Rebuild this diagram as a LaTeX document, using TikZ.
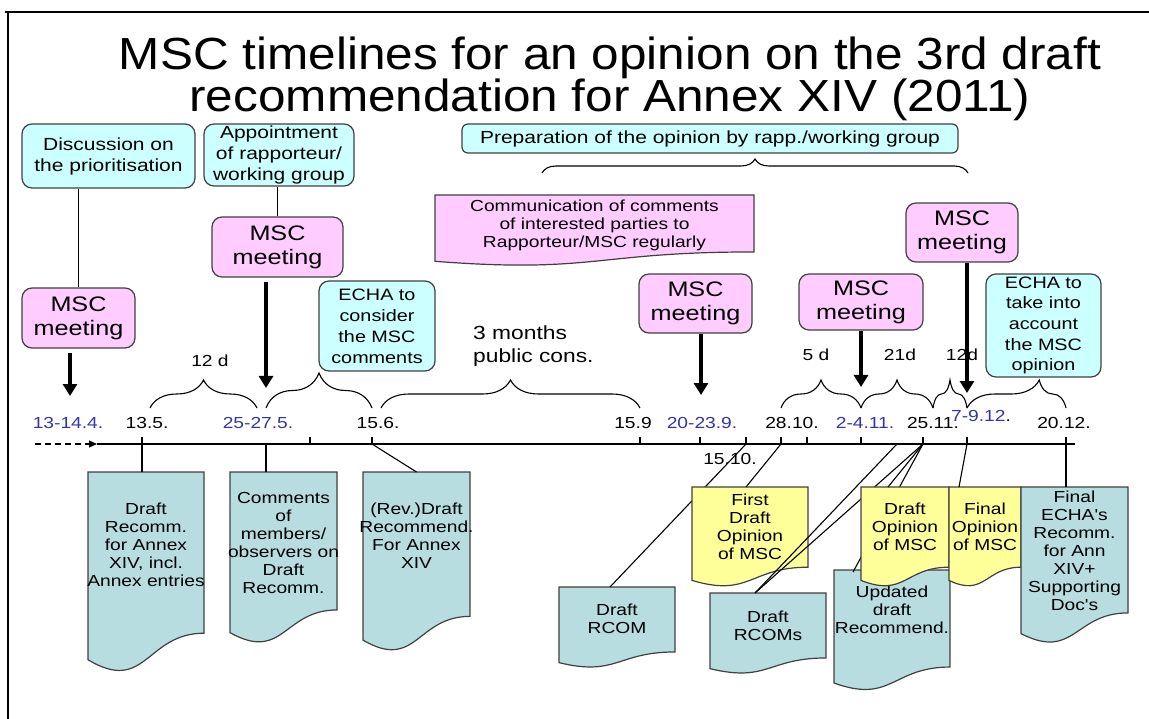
\documentclass[tikz,border=0pt]{standalone}
\usepackage{fontspec}
\setmainfont{Liberation Sans}
\newfontfamily\bodyfont[FakeStretch=1.2]{Liberation Sans}
\newfontfamily\headfont[FakeStretch=1.1]{Liberation Sans}
\usetikzlibrary{arrows.meta,decorations.pathreplacing}

\definecolor{mscpink}{RGB}{255,204,255}
\definecolor{echacyan}{RGB}{204,255,255}
\definecolor{docteal}{RGB}{183,221,225}
\definecolor{docyellow}{RGB}{255,255,153}
\definecolor{dateblue}{RGB}{51,51,170}
\definecolor{edgegray}{RGB}{64,64,64}

% document with a wavy bottom: name, left, right, top, height, fill, text y, text
\newcommand{\docnode}[8]{%
  \filldraw[fill=#6, draw=edgegray, line width=1.2pt]
    (#2,#4) -- (#3,#4) -- (#3,{#4+0.802*#5})
    .. controls ({(#2+#3)/2},{#4+0.802*#5}) and ({(#2+#3)/2},{#4+1.1075*#5}) ..
    (#2,{#4+0.934*#5}) -- cycle;
  \coordinate (#1-top) at ({(#2+#3)/2},#4);
  \node[doctext] (#1) at ({(#2+#3)/2},#7) {#8};
}

\begin{document}
\begin{tikzpicture}[x=1pt, y=-1pt,
  box/.style={draw=edgegray, line width=1.2pt, rounded corners=10pt, inner sep=0pt,
    align=center, font=\bodyfont\fontsize{17.5}{21}\selectfont},
  echabox/.style={box, fill=echacyan},
  meetbox/.style={box, fill=mscpink, font=\bodyfont\fontsize{21}{24}\selectfont},
  doctext/.style={align=center, inner sep=0pt, font=\bodyfont\fontsize{16}{18}\selectfont},
  datelbl/.style={inner sep=0pt, font=\bodyfont\fontsize{16}{18}\selectfont},
  bluedate/.style={datelbl, text=dateblue},
  span/.style={inner sep=0pt, font=\bodyfont\fontsize{16}{18}\selectfont},
  push/.style={line width=4.5pt, -{Triangle[width=14pt,length=12pt]}},
  curly/.style={decorate, decoration={brace, amplitude=#1}, line width=1.1pt},
  curly/.default=28pt]

  \useasboundingbox (0,0) rectangle (1149,719);

  % frame
  \draw[line width=2pt] (5,12) -- (1149,12);
  \draw[line width=2pt] (8,12) -- (8,719);

  \node[align=center, inner sep=0pt, font=\headfont\fontsize{45}{42}\selectfont] (title) at (610,79)
    {MSC timelines for an opinion on the 3rd draft\\recommendation for Annex XIV (2011)};

  % boxes above the time line
  \node[echabox, minimum width=173pt, minimum height=64pt] (disc) at (108.5,156)
    {Discussion on\\the prioritisation};
  \node[echabox, minimum width=150pt, minimum height=62pt] (appt) at (279,155)
    {Appointment\\of rapporteur/\\working group};
  \node[meetbox, minimum width=113pt, minimum height=60pt] (msc1) at (78.5,318) {MSC\\meeting};
  \node[meetbox, minimum width=131pt, minimum height=60pt] (msc2) at (277.5,247) {MSC\\meeting};
  \node[echabox, minimum width=116pt, minimum height=90pt,
    font=\bodyfont\fontsize{16.5}{21}\selectfont] (cons) at (377,326)
    {ECHA to\\consider\\the MSC\\comments};
  \node[echabox, rounded corners=6pt, minimum width=496pt, minimum height=29pt] (prep) at (710,138.5)
    {Preparation of the opinion by rapp./working group};
  \node[meetbox, minimum width=113pt, minimum height=59pt] (msc3) at (695.5,303.5) {MSC\\meeting};
  \node[meetbox, minimum width=124pt, minimum height=56pt] (msc4) at (861,302) {MSC\\meeting};
  \node[meetbox, minimum width=112pt, minimum height=59pt] (msc5) at (962,232.5) {MSC\\meeting};
  \node[echabox, minimum width=115pt, minimum height=103pt,
    font=\bodyfont\fontsize{16.5}{20.7}\selectfont] (acct) at (1043.5,325.5)
    {ECHA to\\take into\\account\\the MSC\\opinion};

  \docnode{comm}{435}{754}{195}{71}{mscpink}{225}
    {Communication of comments\\of interested parties to\\Rapporteur/MSC regularly}

  \draw[line width=1.1pt] (msc1.north) -- (msc1.north |- disc.south);
  \draw[line width=1.1pt] (msc2.north) -- (msc2.north |- appt.south);

  % meeting arrows
  \coordinate (h1) at (70,396);
  \coordinate (h2) at (266,388);
  \coordinate (h3) at (701,395);
  \coordinate (h4) at (861,387);
  \coordinate (h5) at (967,393);
  \draw[push] ([yshift=-4pt]msc1.south -| h1) -- (h1);
  \draw[push] ([yshift=-4pt]msc2.south -| h2) -- (h2);
  \draw[push] (msc3.south -| h3) -- (h3);
  \draw[push] (msc4.south -| h4) -- (h4);
  \draw[push] (msc5.south -| h5) -- (h5);

  % periods
  \draw[curly] (150,408) -- (257,408);
  \draw[curly=35pt] (266,408) -- (372,408);
  \draw[curly] (381,408) -- (640,408);
  \draw[curly] (781,408) -- (861,408);
  \draw[curly] (861,408) -- (933,408);
  \draw[curly] (933,408) -- (967,408);
  \draw[curly, decoration={aspect=0.73}] (967,408) -- (1066,408);
  \draw[curly=14pt] (542,173) -- (968,173);

  \node[span] (p1) at (210,361) {12 d};
  \node[span] (p4) at (816,355) {5 d};
  \node[span] (p5) at (900,355) {21d};
  \node[span] (p6) at (962,355) {12d};
  \node[span, anchor=west, align=left, font=\bodyfont\fontsize{19}{23}\selectfont] (p3) at (473,346)
    {3 months\\public cons.};

  % time line
  \coordinate (d135) at (142,444);
  \coordinate (d2527) at (266,444);
  \coordinate (dm1) at (310,444);
  \coordinate (d156) at (372,444);
  \coordinate (d159) at (640,444);
  \coordinate (d2023) at (700,444);
  \coordinate (d1510) at (746,444);
  \coordinate (d2810) at (781,444);
  \coordinate (dm2) at (807,444);
  \coordinate (d24) at (861,444);
  \coordinate (dm3) at (897,444);
  \coordinate (d2511) at (923,444);
  \coordinate (d79) at (967,444);
  \coordinate (d2012) at (1066,444);

  \draw[line width=1.2pt, dash pattern=on 6pt off 4pt, -{Triangle[width=7pt,length=8pt]}] (35,444) -- (97,444);
  \draw[line width=1.2pt] (97,444) -- (1075,444);
  \foreach \p in {dm1,d156,d159,d1510,dm2,d24,d2511,d79}
    \draw[line width=1.1pt] (\p) -- ++(0,-7);
  \foreach \p in {d2023,d2810}
    \draw[line width=2pt] (\p) -- ++(0,-7);

  \node[bluedate] (l1314) at (68,423) {13-14.4.};
  \node[datelbl] (l135) at (147,423) {13.5.};
  \node[bluedate] (l2527) at (258,423) {25-27.5.};
  \node[datelbl] (l156) at (378,423) {15.6.};
  \node[datelbl] (l159) at (633,423) {15.9};
  \node[bluedate] (l2023) at (702,423) {20-23.9.};
  \node[datelbl] (l2810) at (792,423) {28.10.};
  \node[datelbl] (l1510) at (730,459) {15.10.};
  \node[bluedate] (l24) at (865,423) {2-4.11.};
  \node[datelbl] (l2511) at (933,423) {25.11.};
  \node[datelbl] (l79) at (981,416) {\textcolor{dateblue}{7-9.12}.};
  \node[datelbl] (l2012) at (1064,423) {20.12.};

  % documents
  \docnode{recomm}{88}{204}{472}{201}{docteal}{545}
    {Draft\\Recomm.\\for Annex\\XIV, incl.\\Annex entries}
  \docnode{comments}{230}{337}{472}{172}{docteal}{543}
    {Comments\\of\\members/\\observers on\\Draft\\Recomm.}
  \docnode{rev}{363}{470}{472}{180}{docteal}{536}
    {(Rev.)Draft\\Recommend.\\For Annex\\XIV}
  \docnode{rcom}{559}{675}{587}{81}{docteal}{619}
    {Draft\\RCOM}
  \draw[line width=1.1pt] (d1510) -- ([xshift=-7pt]rcom-top);
  \docnode{first}{692}{808}{487}{100}{docyellow}{527}
    {First\\Draft\\Opinion\\of MSC}
  \docnode{rcoms}{710}{826}{593}{81}{docteal}{626}
    {Draft\\RCOMs}
  \draw[line width=1.1pt] (d2810) -- ([xshift=-4pt]first-top);
  \draw[line width=1.1pt] (dm3) -- ([xshift=-13pt]rcoms-top);
  \draw[line width=1.1pt] (d2511) -- ([xshift=-13pt]rcoms-top);
  \docnode{upd}{834}{950}{570}{121}{docteal}{610}
    {Updated\\draft\\Recommend.}
  \draw[line width=1.1pt] (d2511) -- ([xshift=-39pt,yshift=-2pt]upd-top);
  \docnode{dop}{861}{949}{487}{100}{docyellow}{527}
    {Draft\\Opinion\\of MSC}
  \draw[line width=1.1pt] (d2511) -- ([xshift=-17pt]dop-top);
  \docnode{fop}{949}{1021}{487}{100}{docyellow}{527}
    {Final\\Opinion\\of MSC}
  \docnode{fecha}{1021}{1128}{487}{157}{docteal}{551}
    {Final\\ECHA's\\Recomm.\\for Ann\\XIV+\\Supporting\\Doc's}
  \draw[line width=1.1pt] (d79) -- ([xshift=-26pt]fop-top);

  % links straight down to the documents
  \draw[line width=2pt] ([yshift=7pt]d135) -- (d135 |- recomm-top);
  \draw[line width=1.1pt] (d2527) -- (d2527 |- comments-top);
  \draw[line width=1.1pt] (d156) -- (rev-top);
  \draw[line width=2pt] ([yshift=7pt]d2012) -- (d2012 |- fecha-top);
\end{tikzpicture}
\end{document}
